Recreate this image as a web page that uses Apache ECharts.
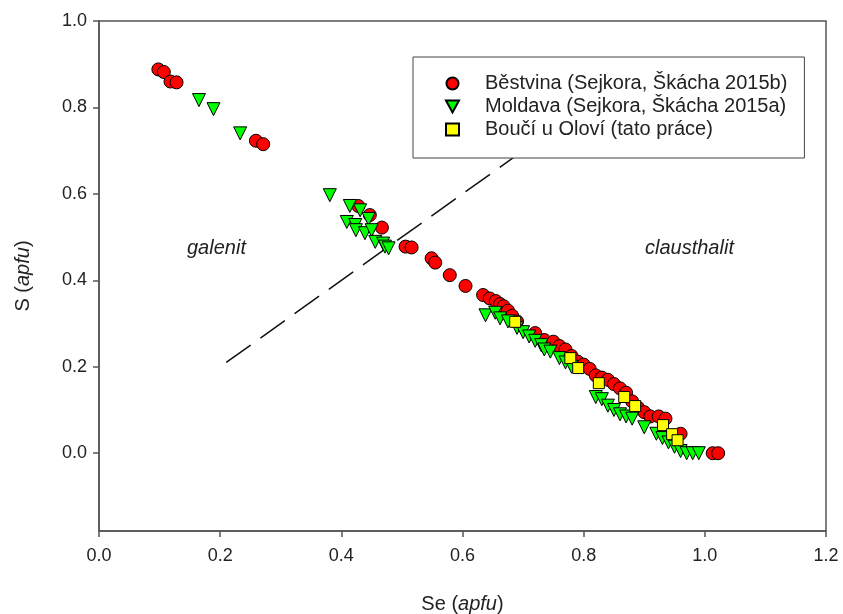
<!DOCTYPE html>
<html>
<head>
<meta charset="utf-8">
<script src="https://cdn.jsdelivr.net/npm/echarts@6/dist/echarts.min.js"></script>
<style>
  html, body { margin: 0; padding: 0; background: #fff; }
  #chart { width: 843px; height: 614px; }
</style>
</head>
<body>
<div id="chart"></div>
<script>
// Se vs S (apfu), each point [Se, S]
const bestvina = [
  [0.098, 0.888], [0.107, 0.882], [0.118, 0.860], [0.128, 0.858],
  [0.259, 0.723], [0.271, 0.715],
  [0.428, 0.572], [0.447, 0.551], [0.467, 0.522],
  [0.506, 0.478], [0.516, 0.476], [0.549, 0.451], [0.555, 0.441],
  [0.579, 0.412], [0.605, 0.387], [0.634, 0.366], [0.645, 0.358],
  [0.655, 0.352], [0.662, 0.345], [0.668, 0.340], [0.675, 0.330],
  [0.682, 0.318], [0.690, 0.305], [0.720, 0.278], [0.735, 0.262],
  [0.750, 0.258], [0.760, 0.248], [0.770, 0.240], [0.780, 0.225],
  [0.790, 0.212], [0.800, 0.205], [0.810, 0.195], [0.820, 0.180],
  [0.830, 0.175], [0.840, 0.170], [0.850, 0.160], [0.860, 0.150],
  [0.870, 0.140], [0.880, 0.120], [0.890, 0.105], [0.900, 0.095],
  [0.910, 0.085], [0.924, 0.085], [0.935, 0.080], [0.960, 0.045],
  [1.013, 0.000], [1.022, 0.000]
];
const moldava = [
  [0.165, 0.817], [0.189, 0.796], [0.233, 0.740],
  [0.381, 0.597], [0.414, 0.572], [0.431, 0.562], [0.445, 0.542],
  [0.409, 0.535], [0.423, 0.528], [0.424, 0.516], [0.439, 0.509],
  [0.450, 0.516], [0.456, 0.489], [0.469, 0.485], [0.472, 0.478],
  [0.478, 0.474],
  [0.638, 0.319], [0.654, 0.325], [0.662, 0.312], [0.675, 0.305],
  [0.690, 0.290], [0.700, 0.280], [0.710, 0.270], [0.720, 0.260],
  [0.730, 0.250], [0.735, 0.240], [0.745, 0.235], [0.760, 0.220],
  [0.770, 0.210], [0.780, 0.200], [0.820, 0.130], [0.830, 0.125],
  [0.840, 0.110], [0.850, 0.100], [0.860, 0.090], [0.870, 0.085],
  [0.880, 0.080], [0.900, 0.060], [0.920, 0.045], [0.930, 0.035],
  [0.940, 0.025], [0.950, 0.015], [0.960, 0.005], [0.970, 0.000],
  [0.980, 0.000], [0.990, 0.000]
];
const bouci = [
  [0.687, 0.304], [0.778, 0.220], [0.791, 0.197], [0.825, 0.162],
  [0.867, 0.130], [0.885, 0.109], [0.931, 0.065], [0.946, 0.044],
  [0.955, 0.030]
];
// boundary line galenit / clausthalit
const boundary = [[0.21, 0.21], [0.8, 0.8]];
const xTicks = [0, 0.2, 0.4, 0.6, 0.8, 1.0, 1.2];
const yTicks = [0, 0.2, 0.4, 0.6, 0.8, 1.0];
const legendNames = [
  'Běstvina (Sejkora, Škácha 2015b)',
  'Moldava (Sejkora, Škácha 2015a)',
  'Boučí u Oloví (tato práce)'
];

const font = "'Liberation Sans', Arial, sans-serif";
const axisColor = '#555';
const textColor = '#222';

const chart = echarts.init(document.getElementById('chart'));

function markerStyle(color) {
  return { color: color, borderColor: '#000', borderWidth: 1, opacity: 1 };
}

const nameRich = {
  a: { fontSize: 20, color: textColor, fontFamily: font },
  b: { fontSize: 20, color: textColor, fontFamily: font, fontStyle: 'italic' }
};

chart.setOption({
  animation: false,
  backgroundColor: '#fff',
  textStyle: { fontFamily: font },
  grid: {
    left: 99, right: 17, top: 21, bottom: 83,
    outerBoundsMode: 'none',
    show: true, borderColor: axisColor, borderWidth: 1.5
  },
  xAxis: {
    type: 'value',
    min: 0, max: 1.2, interval: 0.2,
    name: '{a|Se (}{b|apfu}{a|)}',
    nameLocation: 'middle',
    nameGap: 63,
    nameTextStyle: { rich: nameRich },
    axisLine: { show: true, onZero: false, lineStyle: { color: axisColor, width: 1.5 } },
    axisTick: { show: true, inside: false, length: 6, lineStyle: { color: axisColor, width: 1.5 }, customValues: xTicks },
    axisLabel: { customValues: xTicks, color: textColor, fontSize: 18, margin: 16, formatter: v => v.toFixed(1) },
    splitLine: { show: false }
  },
  yAxis: {
    type: 'value',
    min: -0.18, max: 1.0,
    name: '{a|S (}{b|apfu}{a|)}',
    nameLocation: 'middle',
    nameRotate: 90,
    nameGap: 66,
    nameTextStyle: { rich: nameRich },
    axisLine: { show: true, onZero: false, lineStyle: { color: axisColor, width: 1.5 } },
    axisTick: { show: true, inside: false, length: 6, lineStyle: { color: axisColor, width: 1.5 }, customValues: yTicks },
    axisLabel: { customValues: yTicks, color: textColor, fontSize: 18, margin: 12, formatter: v => v.toFixed(1) },
    splitLine: { show: false }
  },
  legend: {
    data: [
      { name: legendNames[0], icon: 'circle' },
      { name: legendNames[1], icon: 'path://M0,0 L12,0 L6,11 Z' },
      { name: legendNames[2], icon: 'rect' }
    ],
    orient: 'vertical',
    left: 413, top: 57,
    padding: [15, 17, 17, 32],
    itemWidth: 13, itemHeight: 12, itemGap: 0,
    backgroundColor: '#fff',
    borderColor: '#444', borderWidth: 1,
    formatter: name => '{g|}' + name,
    textStyle: {
      fontSize: 20, lineHeight: 23, color: textColor, fontFamily: font,
      rich: { g: { width: 21 } }
    }
  },
  graphic: [
    { type: 'text', left: 187, top: 238, style: { text: 'galenit', fill: textColor, font: 'italic 20px ' + font } },
    { type: 'text', left: 645, top: 238, style: { text: 'clausthalit', fill: textColor, font: 'italic 20px ' + font } }
  ],
  series: [
    {
      type: 'line',
      data: boundary,
      symbol: 'none',
      silent: true,
      z: 1,
      lineStyle: { color: '#111', width: 1.5, type: [30, 12] }
    },
    {
      name: legendNames[0],
      type: 'scatter',
      data: bestvina,
      symbol: 'circle',
      symbolSize: 13,
      itemStyle: markerStyle('#ff0000'),
      z: 2
    },
    {
      name: legendNames[1],
      type: 'scatter',
      data: moldava,
      symbol: 'triangle',
      symbolRotate: 180,
      symbolSize: 13,
      itemStyle: markerStyle('#00ff00'),
      z: 3
    },
    {
      name: legendNames[2],
      type: 'scatter',
      data: bouci,
      symbol: 'rect',
      symbolSize: 11,
      itemStyle: markerStyle('#ffff00'),
      z: 4
    }
  ]
});
</script>
</body>
</html>
